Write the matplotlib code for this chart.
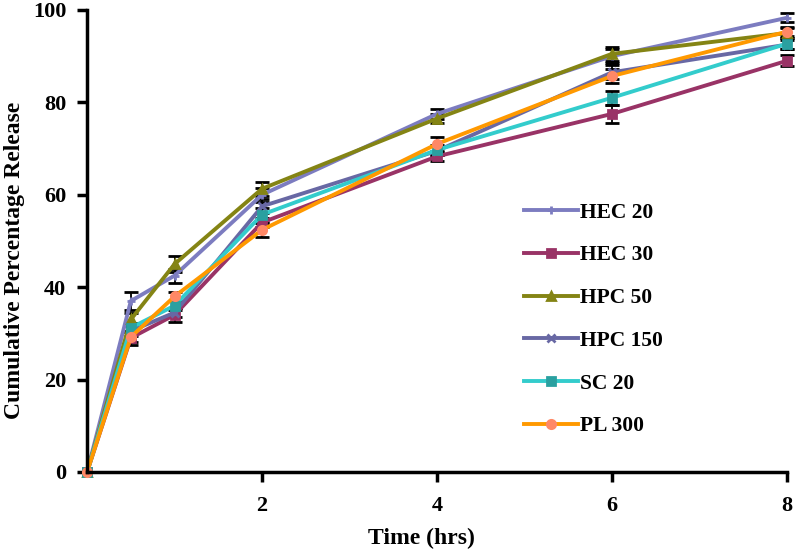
import matplotlib
matplotlib.use('Agg')
import matplotlib.pyplot as plt

# sampling times (hrs)
time_hrs = [0, 0.5, 1, 2, 4, 6, 8]

# cumulative % release per formulation
hec20 = [0, 37.0, 42.5, 60.0, 77.5, 90.0, 98.3]
hec30 = [0, 29.0, 34.0, 54.0, 68.3, 77.5, 89.0]
hpc50 = [0, 33.0, 45.0, 61.3, 76.5, 90.5, 95.0]
hpc150 = [0, 30.5, 34.5, 57.5, 69.5, 86.5, 92.5]
sc20 = [0, 31.2, 36.0, 55.7, 69.7, 81.0, 92.7]
pl300 = [0, 29.2, 38.0, 52.4, 71.0, 85.7, 95.3]

# standard deviations
hec20_sd = [0, 2.0, 1.5, 1.5, 1.0, 1.5, 1.0]
hec30_sd = [0, 1.5, 1.5, 1.0, 1.0, 2.0, 1.2]
hpc50_sd = [0, 1.5, 1.8, 1.5, 1.0, 1.5, 1.0]
hpc150_sd = [0, 1.0, 1.0, 1.5, 1.0, 1.5, 1.0]
sc20_sd = [0, 1.0, 1.0, 1.5, 1.0, 1.5, 1.2]
pl300_sd = [0, 1.0, 1.0, 1.5, 1.5, 1.5, 1.0]

labels = ['HEC 20', 'HEC 30', 'HPC 50', 'HPC 150', 'SC 20', 'PL 300']
series = [hec20, hec30, hpc50, hpc150, sc20, pl300]
errors = [hec20_sd, hec30_sd, hpc50_sd, hpc150_sd, sc20_sd, pl300_sd]
colors = ['#7c7cc0', '#993366', '#848414', '#6868a4', '#33cccc', '#ff9900']
marker_colors = ['#7c7cc0', '#993366', '#848414', '#6868a4', '#2aa0a0', '#ff8866']
markers = ['+', 's', '^', 'x', 's', 'o']

plt.rcParams['font.family'] = ['Liberation Serif', 'DejaVu Serif']

fig = plt.figure(figsize=(7.99, 5.52), dpi=100)
ax = fig.add_axes([0.109, 0.145, 0.876, 0.837])

for y, e, lab, c, mc, m in zip(series, errors, labels, colors, marker_colors, markers):
    ax.errorbar(time_hrs, y, yerr=e, color=c, lw=2.8, marker=m, markersize=6,
                markerfacecolor=mc, markeredgecolor=mc, markeredgewidth=2,
                ecolor='black', elinewidth=1.3, capsize=5, capthick=1.3,
                label=lab, clip_on=False)

ax.set_xlim(0, 8)
ax.set_ylim(0, 100)
ax.set_xticks([2, 4, 6, 8])
ax.set_yticks([0, 20, 40, 60, 80, 100])
ax.spines['top'].set_visible(False)
ax.spines['right'].set_visible(False)
for s in ['left', 'bottom']:
    ax.spines[s].set_linewidth(2.5)
ax.tick_params(axis='both', direction='out', width=2.5, length=7, labelsize=16)
ax.tick_params(axis='x', pad=10.5)
ax.tick_params(axis='y', pad=8)
for t in ax.get_xticklabels() + ax.get_yticklabels():
    t.set_fontweight('bold')

ax.set_xlabel('Time (hrs)', fontsize=17, fontweight='bold')
ax.set_ylabel('Cumulative Percentage Release', fontsize=17, fontweight='bold')
ax.xaxis.set_label_coords(0.477, -0.121)
ax.yaxis.set_label_coords(-0.088, 0.457)

handles, labs = ax.get_legend_handles_labels()
handles = [h[0] for h in handles]
ax.legend(handles, labs, loc='upper left', bbox_to_anchor=(0.609, 0.606),
          frameon=False, prop={'size': 15.5, 'weight': 'bold'},
          handlelength=2.5, handletextpad=0.1, labelspacing=1.05, borderpad=0)

fig.savefig('out.png', dpi=100)
